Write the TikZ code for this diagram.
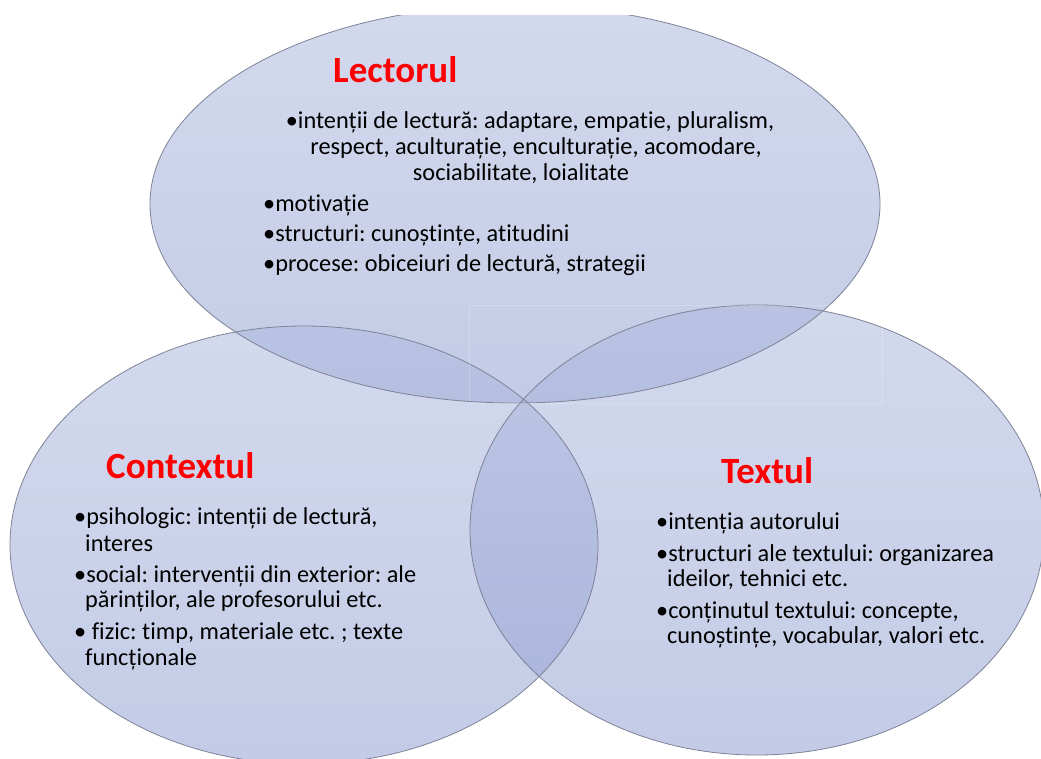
\documentclass[tikz,border=0pt]{standalone}
\usepackage{fontspec}
\setmainfont{Carlito}[Ligatures={NoCommon}]
\frenchspacing
\definecolor{vtop}{RGB}{175,186,222}
\definecolor{vbot}{RGB}{146,160,210}
\definecolor{vline}{RGB}{125,130,150}
\definecolor{headred}{RGB}{255,0,0}
\begin{document}
\begin{tikzpicture}[x=1pt,y=-1pt,
  blob/.style={top color=vtop,bottom color=vbot,fill opacity=0.55},
  rim/.style={draw=vline,line width=0.8pt},
  head/.style={font=\fontsize{37}{40}\selectfont\bfseries,text=headred,anchor=base west,inner sep=0},
  body/.style={font=\fontsize{24.3}{28}\selectfont,anchor=base west,inner sep=0},
  bodyc/.style={font=\fontsize{24.3}{28}\selectfont,anchor=base,inner sep=0}]
\useasboundingbox (0,0) rectangle (1041,758);
\begin{scope}
  \clip (0,15) rectangle (1041,758);
  \shade[blob] (515,204) ellipse [x radius=365pt, y radius=199pt];
  \shade[blob] (304,545) ellipse [x radius=294pt, y radius=219pt];
  \shade[blob] (757,530) ellipse [x radius=287pt, y radius=225pt];
  \draw[rim] (515,204) ellipse [x radius=365pt, y radius=199pt];
  \draw[rim] (304,545) ellipse [x radius=294pt, y radius=219pt];
  \draw[rim] (757,530) ellipse [x radius=287pt, y radius=225pt];
\end{scope}
\draw[white,opacity=0.2,line width=0.5pt] (469,305) rectangle (882,403);
% Lectorul
\node[head] (hL) at (333,82) {Lectorul};
\node[bodyc] (l1) at (530,128) {•intenții de lectură: adaptare, empatie, pluralism,};
\node[bodyc] (l2) at (536,154) {respect, aculturație, enculturație, acomodare,};
\node[bodyc] (l3) at (521,180) {sociabilitate, loialitate};
\node[body] (l4) at (263,211) {•motivație};
\node[body] (l5) at (263,241) {•structuri: cunoștințe, atitudini};
\node[body] (l6) at (263,271) {•procese: obiceiuri de lectură, strategii};
% Contextul
\node[head] (hC) at (106,478) {Contextul};
\node[body] (c1) at (74,524) {•psihologic: intenții de lectură,};
\node[body] (c2) at (85,551) {interes};
\node[body] (c3) at (74,582) {•social: intervenții din exterior: ale};
\node[body] (c4) at (85,607) {părinților, ale profesorului etc.};
\node[body] (c5) at (74,639) {• fizic: timp, materiale etc. ; texte};
\node[body] (c6) at (85,665) {funcționale};
% Textul
\node[head] (hT) at (721,483) {Textul};
\node[body] (t1) at (656,529) {•intenția autorului};
\node[body] (t2) at (656,561) {•structuri ale textului: organizarea};
\node[body] (t3) at (667,586) {ideilor, tehnici etc.};
\node[body] (t4) at (656,618) {•conținutul textului: concepte,};
\node[body] (t5) at (667,643) {cunoștințe, vocabular, valori etc.};
\end{tikzpicture}
\end{document}
